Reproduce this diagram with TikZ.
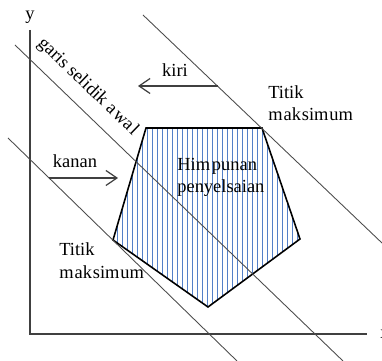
\documentclass[tikz,border=0pt]{standalone}
\usepackage{fontspec}
\setmainfont{Liberation Serif}
\usepackage{xcolor}
\usetikzlibrary{
    arrows.meta,
    positioning
}

\definecolor{hatchblue}{RGB}{84,128,200}

\begin{document}
\begin{tikzpicture}[
    x=0.02cm, y=-0.02cm,
    font=\fontsize{10.5}{13}\selectfont,
    axis/.style={
        line width=0.8pt,
        draw=black!75
    },
    objline/.style={
        line width=0.5pt,
        draw=black!70
    },
    region/.style={
        line width=0.9pt,
        draw=black,
        line join=miter
    },
    hatch/.style={
        line width=0.55pt,
        draw=hatchblue
    },
    arrow/.style={
        -{Straight Barb[length=2.2mm,width=3mm]},
        line width=0.7pt,
        draw=black!75
    },
    note/.style={
        inner sep=0pt,
        align=left,
        anchor=base west
    }
]

\useasboundingbox (0,0) rectangle (382,361);
\clip (0,0) rectangle (382,361);

% =========================================================
% Axes
% =========================================================
\coordinate (origin) at (30,334);
\coordinate (ytop) at (30,30);
\coordinate (xend) at (367,334);

\draw[axis] (ytop) -- (origin) -- (xend);

\node (ylabel) at (30,17) {y};
\node[anchor=west, inner sep=0pt] (xlabel) at (380,334) {x};

% =========================================================
% Feasible region (pentagon)
% =========================================================
\coordinate (pa) at (146,128);
\coordinate (pb) at (262,128);
\coordinate (pc) at (300,239);
\coordinate (pd) at (208,307);
\coordinate (pe) at (113,240);

\begin{scope}
    \clip (pa) -- (pb) -- (pc) -- (pd) -- (pe) -- cycle;
    \foreach \i in {0,...,38} {
        \draw[hatch] (112+5*\i,120) -- (112+5*\i,310);
    }
\end{scope}

\draw[region] (pa) -- (pb) -- (pc) -- (pd) -- (pe) -- cycle;

% =========================================================
% Objective lines
% =========================================================
\coordinate (topA) at (143,15);
\coordinate (topB) at (382,243);
\coordinate (midA) at (15,45);
\coordinate (midB) at (343,361);
\coordinate (lowA) at (8,138);
\coordinate (lowB) at (237,361);

\draw[objline] (topA) -- (topB);
\draw[objline] (midA) -- (midB);
\draw[objline] (lowA) -- (lowB);

\node[rotate=-44, inner sep=0pt] (awal) at (88,87)
{garis selidik a\kern1pt wa\kern1pt l};

% =========================================================
% Shift arrows
% =========================================================
\coordinate (kiriStart) at (218,86);
\coordinate (kiriEnd) at (138,86);
\coordinate (kananStart) at (49,178);
\coordinate (kananEnd) at (118,178);

\draw[arrow] (kiriStart) -- (kiriEnd);
\draw[arrow] (kananStart) -- (kananEnd);

\node[note, anchor=base] (kiri) at (175,77) {kiri};
\node[note, anchor=base] (kanan) at (75,168) {kanan};

% =========================================================
% Labels (anchor sits on the last line)
% =========================================================
\node[note] (himpunan) at (177,193)
{Him\kern1pt punan\\penyelsaian};

\node[note] (maksatas) at (268,121)
{Titik\\m\kern.5pt ak\kern.5pt sim\kern.5pt um};

\node[note] (maksbawah) at (59,278)
{Titik\\m\kern.5pt ak\kern.5pt sim\kern.5pt um};

\end{tikzpicture}
\end{document}
